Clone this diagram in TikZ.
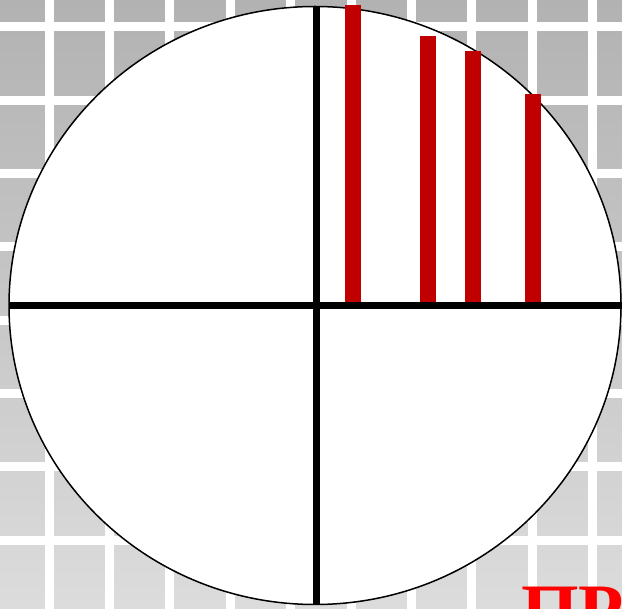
\documentclass[tikz,border=0pt]{standalone}
\usepackage{fontspec}
\setmainfont{Liberation Serif}
\usepackage{xcolor}
\definecolor{vizTileTop}{HTML}{B2B2B2}
\definecolor{vizTileBottom}{HTML}{DCDCDC}
\definecolor{vizBar}{HTML}{C00000}
\definecolor{vizTitle}{HTML}{FF0000}

\begin{document}
\begin{tikzpicture}[x=1pt, y=-1pt]
  \useasboundingbox (0,0) rectangle (622,609);
  \clip (0,0) rectangle (622,609);
  \shade[top color=vizTileTop, bottom color=vizTileBottom] (0,0) rectangle (622,609);
  \foreach \i in {0,...,9}
    \fill[white] (44.5+60.4*\i,0) rectangle +(9,609);
  \foreach \j in {0,...,8}
    \fill[white] (0,22.5+73.3*\j) rectangle +(622,9);
  \coordinate (O) at (315,305.5);
  \coordinate (W) at (9,305.5);
  \coordinate (E) at (622,305.5);
  \coordinate (N) at (316,6);
  \coordinate (S) at (316,604);
  \draw[fill=white, line width=1.5pt] (O) ellipse [x radius=306, y radius=299];
  \fill[vizBar] (345,5) rectangle (361,305);
  \fill[vizBar] (420,36) rectangle (436,305);
  \fill[vizBar] (465,51) rectangle (481,305);
  \fill[vizBar] (525,94) rectangle (541,305);
  \draw[line width=7pt] (W) -- (E);
  \draw[line width=7pt] (N) -- (S);
  \node[text=vizTitle, font=\bfseries\fontsize{74}{74}\selectfont, anchor=base west, inner sep=0pt] (title) at (521,636) {ПР};
\end{tikzpicture}
\end{document}
